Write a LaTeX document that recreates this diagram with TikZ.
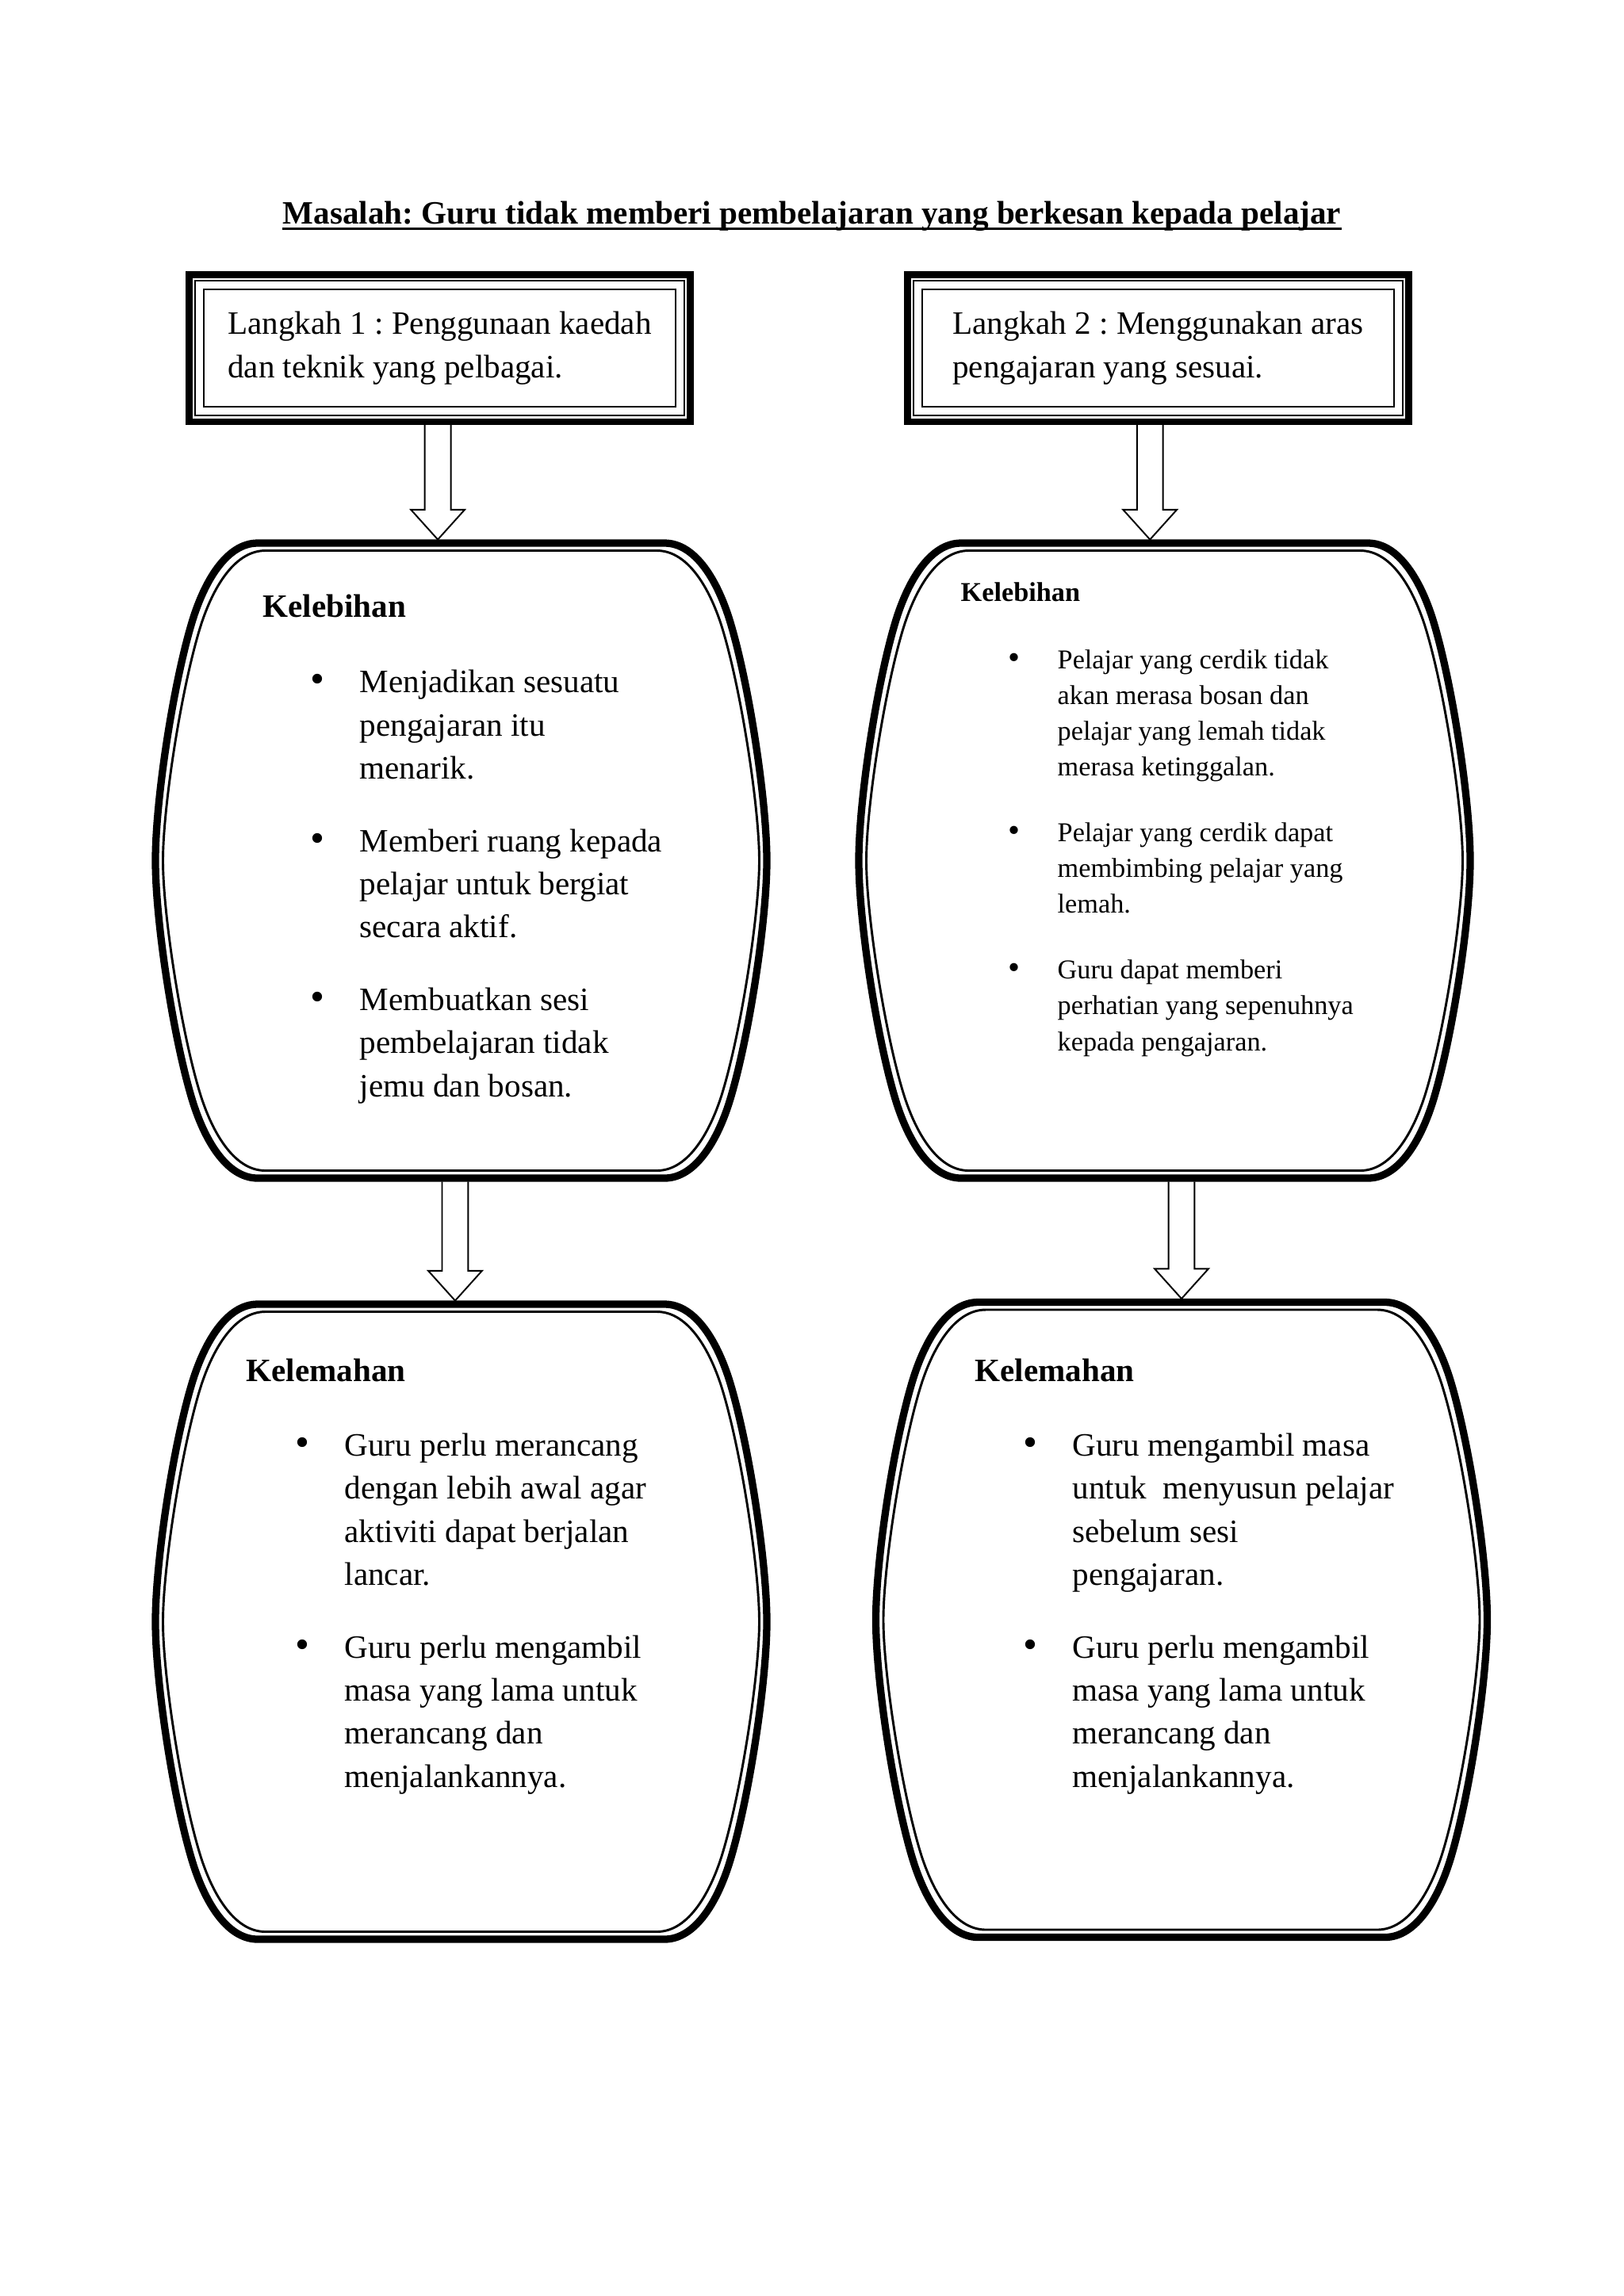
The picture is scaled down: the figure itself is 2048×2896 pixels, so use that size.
\documentclass[tikz,border=0pt]{standalone}
\usepackage{fontspec}
\setmainfont{Liberation Serif}
\usetikzlibrary{calc}
\frenchspacing

\newcommand{\bul}{\leavevmode\llap{\makebox[18pt][l]{\scalebox{1.25}{\textbullet}}}}
\newcommand{\barrel}[4]{%
  \begin{scope}[shift={(#2)}]
  \draw[#1] ({-#3+129},{-#4}) -- ({#3-129},{-#4})
    .. controls ({#3-89},{-#4}) and ({#3-61},{-#4+50}) .. ({#3-46},{-#4+100})
    .. controls ({#3-22},{-#4+180}) and ({#3},{-#4+325}) .. ({#3},0)
    .. controls ({#3},{#4-325}) and ({#3-22},{#4-180}) .. ({#3-46},{#4-100})
    .. controls ({#3-61},{#4-50}) and ({#3-89},{#4}) .. ({#3-129},{#4})
    -- ({-#3+129},{#4})
    .. controls ({-#3+89},{#4}) and ({-#3+61},{#4-50}) .. ({-#3+46},{#4-100})
    .. controls ({-#3+22},{#4-180}) and ({-#3},{#4-325}) .. ({-#3},0)
    .. controls ({-#3},{-#4+325}) and ({-#3+22},{-#4+180}) .. ({-#3+46},{-#4+100})
    .. controls ({-#3+61},{-#4+50}) and ({-#3+89},{-#4}) .. cycle;
  \end{scope}}
\newcommand{\blockarrow}[2]{%
  \draw[blockarr] let \p1=(#1), \p2=(#2) in
    (\x1-4.8pt,\y1) -- (\x1-4.8pt,\y2+11pt) -- (\x1-9.9pt,\y2+11pt) -- (\x1,\y2)
    -- (\x1+9.9pt,\y2+11pt) -- (\x1+4.8pt,\y2+11pt) -- (\x1+4.8pt,\y1);}

\begin{document}
\begin{tikzpicture}[x=0.10254mm,y=-0.10254mm,
  stepbox/.style={draw,double,line width=0.2mm,double distance=0.92mm,minimum width=62.1mm,minimum height=16.3mm,inner sep=0pt,outer sep=1.36mm,align=left,font=\fontsize{12}{16.2}\selectfont},
  outerline/.style={line width=0.87mm},
  barrelnode/.style={minimum width=80mm,minimum height=83.05mm,inner sep=0pt,outer sep=0pt},
  thickrim/.style={line width=0.95mm},
  thinrim/.style={line width=0.3mm},
  blockarr/.style={line width=0.2mm,line join=miter},
  head/.style={font=\bfseries\fontsize{12}{14}\selectfont,inner sep=0pt,anchor=base west},
  itemlist/.style={font=\fontsize{12}{15.85}\selectfont,align=left,inner sep=0pt,anchor=base west}]
\path[use as bounding box,fill=white] (0,0) rectangle (2048,2896);

\node[font=\bfseries\fontsize{12}{14}\selectfont,inner sep=0pt,anchor=base] (judul) at (1024,282) {Masalah: Guru tidak memberi pembelajaran yang berkesan kepada pelajar};
\draw[line width=0.85pt] ([yshift=-1.8pt]judul.base west) -- ([yshift=-1.8pt]judul.base east);

\node[stepbox] (L1) at (554.5,439) {Langkah 1 : Penggunaan kaedah\\ dan teknik yang pelbagai.};
\node[stepbox] (L2) at (1460.5,439) {Langkah 2 : Menggunakan aras\\ pengajaran yang sesuai.};
\draw[outerline] (L1.north west) rectangle (L1.south east);
\draw[outerline] (L2.north west) rectangle (L2.south east);

\node[barrelnode] (K1) at (581.5,1085.5) {};
\node[barrelnode] (K2) at (1468.5,1085.5) {};
\node[barrelnode] (K3) at (581.5,2045.5) {};
\node[barrelnode] (K4) at (1490,2043) {};
\barrel{thickrim}{K1}{385.5}{400.5}
\barrel{thinrim}{K1}{376}{391}
\barrel{thickrim}{K2}{385.5}{400.5}
\barrel{thinrim}{K2}{376}{391}
\barrel{thickrim}{K3}{385.5}{400.5}
\barrel{thinrim}{K3}{376}{391}
\barrel{thickrim}{K4}{385.5}{400.5}
\barrel{thinrim}{K4}{376}{391}

\blockarrow{[xshift=-0.7pt]L1.south}{L1.south |- K1.north}
\blockarrow{[xshift=-3pt]L2.south}{L2.south |- K2.north}
\blockarrow{[xshift=-2.2pt]K3.north |- K1.south}{K3.north}
\blockarrow{K4.north |- K2.south}{K4.north}

\node[head] (h1) at (331,778) {Kelebihan};
\node[itemlist] (s1) at (453,1383) {\bul Menjadikan sesuatu\\ pengajaran itu\\ menarik.\\[10.9pt]
  \bul Memberi ruang kepada\\ pelajar untuk bergiat\\ secara aktif.\\[10.9pt]
  \bul Membuatkan sesi\\ pembelajaran tidak\\ jemu dan bosan.};

\node[head,font=\bfseries\fontsize{10}{12}\selectfont] (h2) at (1211,758) {Kelebihan};
\node[itemlist,font=\fontsize{10}{13.2}\selectfont] (s2) at (1333,1325) {\bul Pelajar yang cerdik tidak\\ akan merasa bosan dan\\ pelajar yang lemah tidak\\ merasa ketinggalan.\\[10.9pt]
  \bul Pelajar yang cerdik dapat\\ membimbing pelajar yang\\ lemah.\\[10.9pt]
  \bul Guru dapat memberi\\ perhatian yang sepenuhnya\\ kepada pengajaran.};

\node[head] (h3) at (310,1742) {Kelemahan};
\node[itemlist] (s3) at (434,2254) {\bul Guru perlu merancang\\ dengan lebih awal agar\\ aktiviti dapat berjalan\\ lancar.\\[10.9pt]
  \bul Guru perlu mengambil\\ masa yang lama untuk\\ merancang dan\\ menjalankannya.};

\node[head] (h4) at (1229,1742) {Kelemahan};
\node[itemlist] (s4) at (1352,2254) {\bul Guru mengambil masa\\ untuk\ \ menyusun pelajar\\ sebelum sesi\\ pengajaran.\\[10.9pt]
  \bul Guru perlu mengambil\\ masa yang lama untuk\\ merancang dan\\ menjalankannya.};
\end{tikzpicture}
\end{document}
